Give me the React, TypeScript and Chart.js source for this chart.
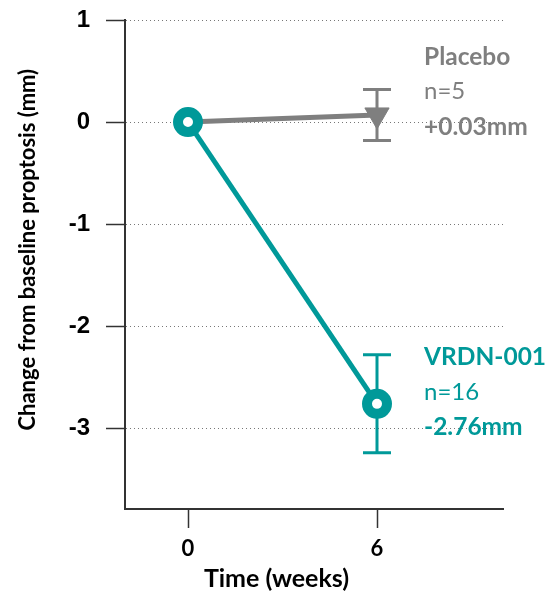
import React, { useEffect, useRef } from "react";
import { Chart, registerables } from "chart.js";

Chart.register(...registerables);

const weeks = [0, 6];
const placeboMean = [0, 0.07];
const placeboErr = [0, 0.25];
const vrdnMean = [0, -2.76];
const vrdnErr = [0, 0.48];
const yTickValues = [1, 0, -1, -2, -3];
const xTickValues = [0, 6];
const placeboLabel = ["Placebo", "n=5", "+0.03mm"];
const vrdnLabel = ["VRDN-001", "n=16", "-2.76mm"];
const yTitle = "Change from baseline proptosis (mm)";
const xTitle = "Time (weeks)";

const TEAL = "#009999";
const GREY = "#7f7f7f";
const FONT = "Lato, 'Open Sans', sans-serif";

export default function App() {
  const ref = useRef<HTMLCanvasElement | null>(null);

  useEffect(() => {
    document.body.style.margin = "0";
    const canvas = ref.current;
    if (!canvas) return;

    const errorBars = {
      id: "errorBars",
      beforeDatasetsDraw(chart: any) {
        const { ctx, scales } = chart;
        const x = scales.x;
        const y = scales.y;
        const sets = [
          { mean: placeboMean, err: placeboErr, color: GREY },
          { mean: vrdnMean, err: vrdnErr, color: TEAL },
        ];
        ctx.save();
        sets.forEach((s) => {
          weeks.forEach((w, i) => {
            if (!s.err[i]) return;
            const px = x.getPixelForValue(w);
            const top = y.getPixelForValue(s.mean[i] + s.err[i]);
            const bot = y.getPixelForValue(s.mean[i] - s.err[i]);
            ctx.strokeStyle = s.color;
            ctx.lineWidth = 3;
            ctx.beginPath();
            ctx.moveTo(px, top);
            ctx.lineTo(px, bot);
            ctx.moveTo(px - 14, top);
            ctx.lineTo(px + 14, top);
            ctx.moveTo(px - 14, bot);
            ctx.lineTo(px + 14, bot);
            ctx.stroke();
          });
        });
        ctx.restore();
      },
    };

    const labels = {
      id: "labels",
      afterDraw(chart: any) {
        const { ctx, scales } = chart;
        const x = scales.x;
        const y = scales.y;
        ctx.save();
        const drawBlock = (lines: string[], color: string, w: number, v: number, offs: number[]) => {
          const px = x.getPixelForValue(w) + 47;
          const py = y.getPixelForValue(v);
          ctx.fillStyle = color;
          ctx.textAlign = "left";
          ctx.textBaseline = "alphabetic";
          lines.forEach((t, i) => {
            ctx.font = (i === 1 ? "normal 24px " : "bold 24.5px ") + FONT;
            ctx.fillText(t, px, py + offs[i]);
          });
        };
        drawBlock(placeboLabel, GREY, weeks[1], placeboMean[1], [-50, -16, 20]);
        drawBlock(vrdnLabel, TEAL, weeks[1], vrdnMean[1], [-39, -4, 31]);

        // axis titles
        ctx.fillStyle = "#000";
        ctx.font = "bold 22px " + FONT;
        ctx.textAlign = "center";
        ctx.textBaseline = "middle";
        ctx.save();
        ctx.translate(28, y.getPixelForValue(-1.25));
        ctx.rotate(-Math.PI / 2);
        ctx.fillText(yTitle, 0, 0);
        ctx.restore();

        ctx.font = "bold 25px " + FONT;
        ctx.textBaseline = "alphabetic";
        const cx = (x.getPixelForValue(xTickValues[0]) + x.getPixelForValue(xTickValues[1])) / 2 - 6;
        ctx.fillText(xTitle, cx, 587);
        ctx.restore();
      },
    };

    const chart = new Chart(canvas, {
      type: "line",
      data: {
        datasets: [
          {
            label: "VRDN-001",
            data: weeks.map((w, i) => ({ x: w, y: vrdnMean[i] })),
            borderColor: TEAL,
            borderWidth: 5,
            pointStyle: "circle",
            pointRadius: 10,
            pointBorderWidth: 10,
            pointBackgroundColor: "#fff",
            pointBorderColor: TEAL,
          },
          {
            label: "Placebo",
            data: weeks.map((w, i) => ({ x: w, y: placeboMean[i] })),
            borderColor: GREY,
            borderWidth: 5,
            pointStyle: "triangle",
            pointRotation: 180,
            pointRadius: 14,
            pointBorderWidth: 1,
            pointBackgroundColor: GREY,
            pointBorderColor: GREY,
          },
        ],
      },
      options: {
        responsive: false,
        animation: false,
        layout: { padding: { top: 16, right: 43, left: 0, bottom: 0 } },
        plugins: { legend: { display: false }, tooltip: { enabled: false } },
        scales: {
          x: {
            type: "linear",
            min: -2,
            max: 10,
            afterBuildTicks: (s: any) => {
              s.ticks = xTickValues.map((v) => ({ value: v }));
            },
            afterFit: (s: any) => {
              s.height = 85;
              s.paddingLeft = 0;
              s.paddingRight = 0;
            },
            grid: { drawOnChartArea: false, drawTicks: true, tickLength: 19, color: "#333", tickWidth: 1.5 },
            border: { display: true, color: "#333", width: 2 },
            ticks: { color: "#000", font: { family: FONT, weight: "bold", size: 22 }, padding: 8 },
          },
          y: {
            type: "linear",
            min: -3.79,
            max: 1,
            afterBuildTicks: (s: any) => {
              s.ticks = yTickValues.map((v) => ({ value: v }));
            },
            afterFit: (s: any) => {
              s.width = 125;
              s.paddingTop = 0;
              s.paddingBottom = 0;
            },
            grid: {
              drawOnChartArea: true,
              drawTicks: true,
              tickLength: 19,
              color: "#777",
              lineWidth: 1,
              tickColor: "#333",
              tickWidth: 1.5,
              tickBorderDash: [],
            },
            border: { display: true, color: "#333", width: 2, dash: [1, 3] },
            ticks: {
              color: "#000",
              font: { family: "'Liberation Sans', Arial, sans-serif", weight: "bold", size: 24 },
              padding: 16,
            },
          },
        },
      },
      plugins: [errorBars, labels],
    } as any);

    return () => chart.destroy();
  }, []);

  return <canvas ref={ref} width={546} height={594} style={{ display: "block" }} />;
}
